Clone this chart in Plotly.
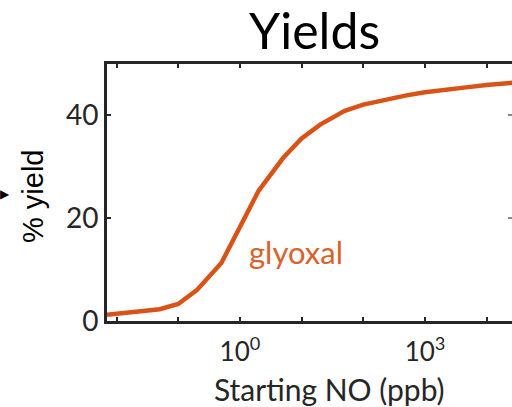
import plotly.graph_objects as go

# data
no_ppb = [0.007, 0.02, 0.05, 0.1, 0.2, 0.5, 1, 2, 5, 10, 20, 50, 100, 200, 500,
          1000, 2000, 5000, 10000, 20000, 30000]
yield_pct = [1.2, 1.7, 2.3, 3.3, 6.0, 11.3, 18.3, 25.3, 31.7, 35.5, 38.2, 40.9,
             42.1, 42.9, 43.9, 44.5, 45.0, 45.5, 45.9, 46.2, 46.4]
x_labelvals = [1, 1000]
x_labeltext = ["10<sup>0</sup>", "10<sup>3</sup>"]
x_tickvals = [0.01, 0.1, 1, 10, 100, 1000, 10000]
y_tickvals = [0, 20, 40]

ORANGE = "#D95319"
AX = "#262626"
L, T, B, W, H = 107, 64, 86, 512, 407
PW, PH = W - L, H - T - B
XR = [-2.155, 4.41]

def px(x):
    return (x - L) / PW

def py(y):
    return (H - B - y) / PH

fig = go.Figure()
fig.add_trace(go.Scatter(x=no_ppb, y=yield_pct, mode="lines",
                         line=dict(color=ORANGE, width=4.5), showlegend=False,
                         hoverinfo="skip"))
fig.add_trace(go.Scatter(x=no_ppb[:1], y=yield_pct[:1], xaxis="x2", yaxis="y2",
                         mode="lines", line=dict(width=0), showlegend=False,
                         hoverinfo="skip"))

fig.update_layout(
    width=W, height=H, margin=dict(l=L, r=0, t=T, b=B),
    paper_bgcolor="white", plot_bgcolor="white",
    font=dict(family="Lato", color=AX),
    xaxis=dict(type="log", range=XR, tickvals=x_labelvals,
               ticktext=x_labeltext, ticks="", ticklabelstandoff=6,
               showline=True, linecolor=AX, linewidth=3,
               showgrid=False, zeroline=False,
               tickfont=dict(family="Lato", size=26, color=AX)),
    xaxis2=dict(type="log", range=XR, overlaying="x", anchor="y",
                tickvals=x_tickvals, ticks="inside", ticklen=4, tickwidth=2,
                tickcolor=AX, showticklabels=False, showline=True,
                linecolor=AX, linewidth=3, mirror="ticks", showgrid=False,
                zeroline=False),
    yaxis=dict(range=[0, 50], tickvals=y_tickvals, ticks="inside", ticklen=4,
               tickwidth=2, tickcolor=AX, showline=True, linecolor=AX,
               linewidth=3, showgrid=False, zeroline=False,
               tickfont=dict(family="Lato", size=28, color=AX)),
    yaxis2=dict(range=[0, 50], overlaying="y", side="right", anchor="x",
                tickvals=[20, 40], ticks="inside", ticklen=4, tickwidth=2,
                tickcolor="#888888", showticklabels=False, showline=False,
                showgrid=False, zeroline=False),
)

fig.add_annotation(text="Starting NO (ppb)", xref="paper", yref="paper",
                   x=px(329), y=py(389), showarrow=False, xanchor="center",
                   yanchor="middle", font=dict(family="Lato", size=30, color=AX))
fig.add_annotation(text="Yields", xref="paper", yref="paper", x=px(314), y=py(30),
                   showarrow=False, xanchor="center", yanchor="middle",
                   font=dict(family="Lato", size=50, color="black"))
fig.add_annotation(text="% yield", xref="paper", yref="paper", x=px(33), y=py(196),
                   showarrow=False, textangle=-90, xanchor="center",
                   yanchor="middle",
                   font=dict(family="Liberation Sans", size=29, color="black"))
fig.add_annotation(text="glyoxal", xref="paper", yref="paper", x=px(296), y=py(252),
                   showarrow=False, xanchor="center", yanchor="middle",
                   font=dict(family="Lato", size=31, color="#D9622B"))
fig.add_annotation(text="▶", xref="paper", yref="paper", x=px(5), y=py(194),
                   showarrow=False, xanchor="center", yanchor="middle",
                   font=dict(family="DejaVu Sans", size=12, color="black"))

fig.write_html("out.html")
